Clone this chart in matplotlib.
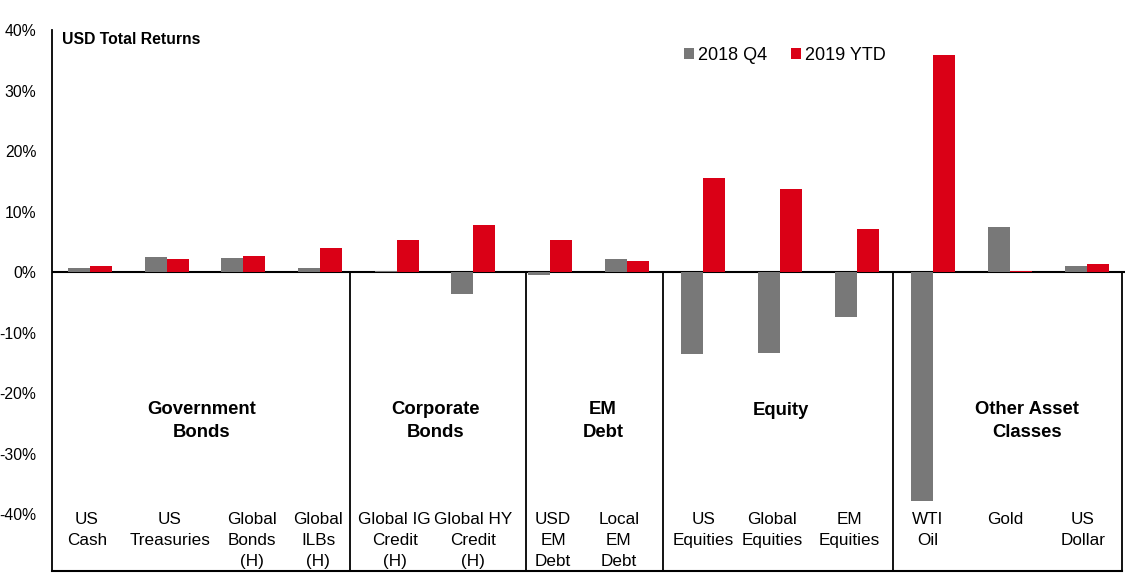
import matplotlib.pyplot as plt
import numpy as np

plt.rcParams['font.family'] = ['Liberation Sans', 'DejaVu Sans']

# data (% total return, USD)
labels = ["US\nCash", "US\nTreasuries", "Global\nBonds\n(H)", "Global\nILBs\n(H)",
          "Global IG\nCredit\n(H)", "Global HY\nCredit\n(H)", "USD\nEM\nDebt", "Local\nEM\nDebt",
          "US\nEquities", "Global\nEquities", "EM\nEquities",
          "WTI\nOil", "Gold", "US\nDollar"]
q4_2018 = [0.72, 2.53, 2.37, 0.72, 0.22, -3.7, -0.55, 2.2, -13.6, -13.3, -7.4, -37.9, 7.4, 1.05]
ytd_2019 = [1.05, 2.2, 2.7, 4.02, 5.3, 7.8, 5.3, 1.87, 15.5, 13.7, 7.1, 35.9, 0.22, 1.27]
series_names = ["2018 Q4", "2019 YTD"]
groups = ["Government\nBonds", "Corporate\nBonds", "EM\nDebt", "Equity", "Other Asset\nClasses"]

GRAY = "#787878"
RED = "#DA0016"

fig = plt.figure(figsize=(11.29, 5.80), dpi=100)
ax = fig.add_axes([0.0458, 0.0155, 0.9507, 0.9328])

x = np.arange(len(labels))
w = 0.287
ax.bar(x - w / 2, q4_2018, w, color=GRAY, label=series_names[0], zorder=4)
ax.bar(x + w / 2, ytd_2019, w, color=RED, label=series_names[1], zorder=4)

ymin, ymax = -49.4, 40
ax.set_xlim(-0.5, len(labels) - 0.5)
ax.set_ylim(ymin, ymax)

# zero line, group dividers and bottom border
ax.axhline(0, color="black", lw=1.5, zorder=3)
for sx in [3.39, 5.68, 7.47, 10.47, len(labels) - 0.54]:
    ax.plot([sx, sx], [0, ymin], color="black", lw=1.3, clip_on=False)
ax.plot([-0.5, len(labels) - 0.54], [ymin, ymin], color="black", lw=1.5, clip_on=False)

for s in ["top", "right", "bottom"]:
    ax.spines[s].set_visible(False)
ax.spines["left"].set_linewidth(1.3)

ax.set_yticks(np.arange(-40, 41, 10))
ax.set_yticklabels([f"{v}%" for v in range(-40, 41, 10)], fontsize=11.3)
ax.tick_params(axis="y", length=0, pad=11)
ax.set_xticks([])

# category labels under the bars (small nudges as in the original text boxes)
nudge_px = [-3, 3, 9, -2, -2, 0, 3, -8, 0, -8, -7, -6, -5, -4]
for xi, lab, nd in zip(x, labels, nudge_px):
    ax.text(xi + nd / 76.7, -39.6, lab, ha="center", va="top", fontsize=12.3, linespacing=1.5)

# group titles
group_x = [1.45, 4.51, 6.69, 9.01, 12.22]
for gx, g in zip(group_x, groups):
    ax.text(gx, -22.8 if "\n" not in g else -24.6, g, ha="center", va="center",
            fontsize=13.3, fontweight="bold", linespacing=1.4)

ax.text(0.0095, 0.983, "USD Total Returns", transform=ax.transAxes, fontsize=11.3,
        fontweight="bold", va="center", ha="left")

leg = ax.legend(loc="upper left", bbox_to_anchor=(0.582, 0.982), ncol=2, frameon=False,
                fontsize=13, handlelength=0.55, handleheight=0.55, handletextpad=0.25,
                columnspacing=1.3, borderaxespad=0)

fig.savefig("out.png", dpi=100)
